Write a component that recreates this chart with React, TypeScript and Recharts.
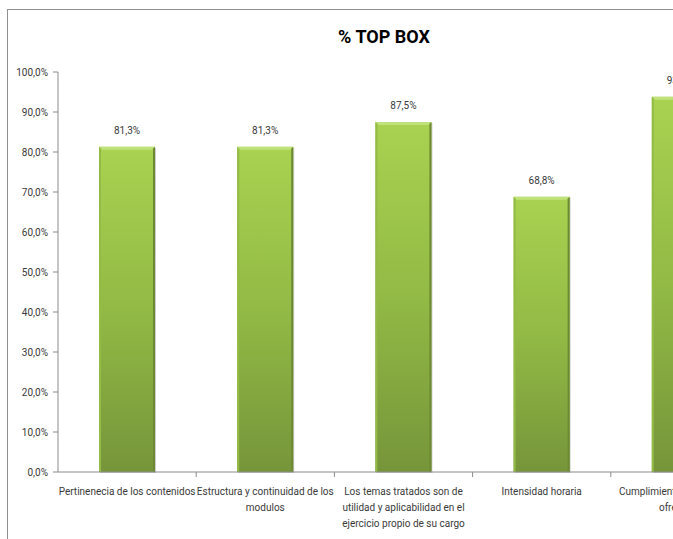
import React from 'react';
import { BarChart, Bar, XAxis, YAxis, LabelList } from 'recharts';

const categories = [
  'Pertinenecia de los contenidos',
  'Estructura y continuidad de los modulos',
  'Los temas tratados son de utilidad y aplicabilidad en el ejercicio propio de su cargo',
  'Intensidad horaria',
  'Cumplimiento de los temas ofrecidos',
];
const topBox = [81.3, 81.3, 87.5, 68.8, 93.8];
const yTicks = [0, 10, 20, 30, 40, 50, 60, 70, 80, 90, 100];

const data = categories.map((name, i) => ({ name, value: topBox[i] }));

const FONT = "Roboto, 'Liberation Sans', sans-serif";
const TEXT = '#3a3a3a';
const AXIS = '#8c8c8c';

const CHART_W = 762;
const CHART_H = 589;
const MARGIN = { top: 62, right: 21, bottom: 47, left: 0 };
const Y_W = 50;
const BAND = (CHART_W - MARGIN.left - MARGIN.right - Y_W) / categories.length;

const pct = (v: number) => `${v.toFixed(1).replace('.', ',')}%`;

// greedy word wrap, roughly like excel does for axis labels
const wrap = (s: string, max = 31) => {
  const lines: string[] = [];
  let cur = '';
  for (const w of s.split(' ')) {
    const next = cur ? `${cur} ${w}` : w;
    if (next.length > max && cur) {
      lines.push(cur);
      cur = w;
    } else {
      cur = next;
    }
  }
  if (cur) lines.push(cur);
  return lines;
};

const BevelBar = (props: any) => {
  const { x, y, width, height } = props;
  if (!height || height <= 0) return null;
  return (
    <g>
      <rect x={x + 1} y={y + 1} width={width} height={height} fill="#6f6f6f" opacity={0.35} />
      <rect x={x} y={y} width={width} height={height} fill="url(#barGrad)" />
      <polygon
        points={`${x},${y} ${x + width},${y} ${x + width - 3},${y + 3} ${x + 3},${y + 3}`}
        fill="#c0e27a"
      />
      <polygon
        points={`${x + width},${y} ${x + width},${y + height} ${x + width - 2},${y + height} ${x + width - 2},${y + 2}`}
        fill="#6d8a33"
      />
      <polygon
        points={`${x},${y} ${x + 2},${y + 2} ${x + 2},${y + height} ${x},${y + height}`}
        fill="#93bb45"
      />
    </g>
  );
};

const CategoryTick = (props: any) => {
  const { x, y, payload } = props;
  const lines = wrap(String(payload.value));
  return (
    <g>
      <line x1={x + BAND / 2} y1={y - 8} x2={x + BAND / 2} y2={y - 3} stroke={AXIS} />
      <text x={x} y={y + 15} textAnchor="middle" fill={TEXT} style={{ fontFamily: FONT, fontSize: 10 }}>
        {lines.map((l, i) => (
          <tspan key={i} x={x} dy={i === 0 ? 0 : 16}>
            {l}
          </tspan>
        ))}
      </text>
    </g>
  );
};

export default function App() {
  return (
    <div style={{ position: 'fixed', left: 7, top: 9, width: 666, height: 530, overflow: 'hidden', background: '#fff' }}>
      <div
        style={{
          position: 'absolute',
          left: 0,
          top: 0,
          width: CHART_W,
          height: CHART_H,
          borderTop: '1px solid #8f8f8f',
          borderLeft: '1px solid #8f8f8f',
        }}
      >
        <div
          style={{
            position: 'absolute',
            left: 0,
            top: 16,
            width: 752,
            textAlign: 'center',
            fontFamily: FONT,
            fontWeight: 'bold',
            fontSize: 18,
            color: '#000',
          }}
        >
          % TOP BOX
        </div>
        <BarChart width={CHART_W} height={CHART_H} data={data} margin={MARGIN}>
          <defs>
            <linearGradient id="barGrad" x1="0" y1="0" x2="0" y2="1">
              <stop offset="0%" stopColor="#a9d251" />
              <stop offset="50%" stopColor="#92ba45" />
              <stop offset="100%" stopColor="#76953a" />
            </linearGradient>
          </defs>
          <YAxis
            width={Y_W}
            domain={[0, 100]}
            ticks={yTicks}
            interval={0}
            tickFormatter={pct}
            axisLine={{ stroke: AXIS }}
            tickLine={{ stroke: AXIS }}
            tickSize={5}
            tickMargin={5}
            tick={{ fill: TEXT, fontSize: 10, fontFamily: FONT }}
          />
          <XAxis
            dataKey="name"
            interval={0}
            axisLine={{ stroke: AXIS }}
            tickLine={false}
            tickSize={0}
            tickMargin={8}
            height={80}
            tick={<CategoryTick />}
          />
          <Bar dataKey="value" barSize={56} shape={<BevelBar />} isAnimationActive={false}>
            <LabelList
              dataKey="value"
              position="top"
              offset={13}
              formatter={(v: any) => pct(Number(v))}
              style={{ fill: TEXT, fontSize: 10, fontFamily: FONT }}
            />
          </Bar>
        </BarChart>
      </div>
    </div>
  );
}
